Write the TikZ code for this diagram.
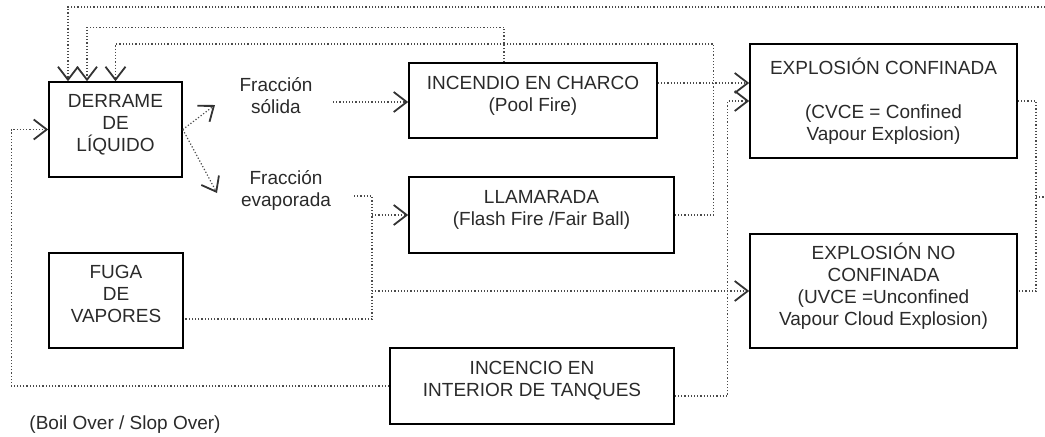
\documentclass[tikz,border=0pt]{standalone}
\usepackage{fontspec}
\setmainfont{Liberation Sans}
\usetikzlibrary{arrows.meta,calc}
\definecolor{linegray}{HTML}{4A4A4A}
\definecolor{textgray}{HTML}{2A2A2A}
\newcommand{\diagfont}{\fontsize{9.5pt}{11pt}\selectfont}
\tikzset{
    box/.style={draw, line width=0.8pt, align=center, font=\diagfont, text=textgray, inner sep=2pt, text depth=7pt},
    lbl/.style={align=center, font=\diagfont, text=textgray},
    flow/.style={densely dotted, line width=0.6pt, linegray},
    arr/.style={flow, -{Straight Barb[length=6.5pt,width=10pt,line width=0.9pt,color=black!80]}},
}
\begin{document}
\begin{tikzpicture}[x=0.5pt, y=-0.5pt]
    \useasboundingbox (0,0) rectangle (1045,436);

    % Sources
    \node[box, minimum width=66.5pt, minimum height=47.5pt] (derrame) at (115.5,129.5) {DERRAME\\DE\\LÍQUIDO};
    \node[box, minimum width=67pt, minimum height=47.5pt] (fugavap) at (116,300.5) {FUGA\\DE\\VAPORES};

    % Fractions
    \node[lbl] (solida) at (276,96) {Fracción\\sólida};
    \node[lbl] (evapor) at (286,190) {Fracción\\evaporada};

    % Fires
    \node[box, minimum width=124pt, minimum height=37.5pt] (charco) at (533,100.5) {INCENDIO EN CHARCO\\(Pool Fire)};
    \node[box, minimum width=132.5pt, minimum height=38pt] (llamarada) at (541.5,215) {LLAMARADA\\(Flash Fire /Fair Ball)};
    \node[box, minimum width=142pt, minimum height=38pt] (tanques) at (532,386) {INCENCIO EN\\INTERIOR DE TANQUES};
    \node[lbl] (boil) at (125,425) {(Boil Over / Slop Over)};

    % Explosions
    \node[box, text depth=, minimum width=133.5pt, minimum height=57pt] (explconf) at (883.5,101) {EXPLOSIÓN CONFINADA\\[11pt](CVCE = Confined\\Vapour Explosion)};
    \node[box, minimum width=133.5pt, minimum height=57pt] (explnoconf) at (883.5,291) {EXPLOSIÓN NO\\CONFINADA\\(UVCE =Unconfined\\Vapour Cloud Explosion)};

    % Bend points
    \coordinate (solidaTip) at (215,105);
    \coordinate (evapTip) at (217,193);
    \coordinate (solidaOut) at (333,102);
    \coordinate (evapOut) at (354,196);
    \coordinate (junc) at (372,196);
    \coordinate (fugaOut) at ([yshift=-9.25pt]fugavap.east);
    \coordinate (charcoOut) at ([yshift=8.75pt]charco.east);
    \coordinate (tanqOut) at ([yshift=-5pt]tanques.east);
    \coordinate (mergeR) at (1036,197);
    \coordinate (rightB) at (1045,197);
    \coordinate (topA) at (1045,7);

    % Spill splits
    \draw[arr] (derrame.east) -- (solidaTip);
    \draw[arr] (derrame.east) -- (evapTip);
    \draw[arr] (solidaOut) -- (solidaOut -| charco.west);

    % Vapour lines
    \draw[flow] (evapOut) -- (junc) |- (fugaOut);
    \draw[arr] (junc |- llamarada.west) -- (llamarada.west);
    \draw[arr] (junc |- explnoconf.west) -- (explnoconf.west);

    % To the confined explosion
    \draw[arr] (charcoOut) -- (charcoOut -| explconf.west);
    \draw[arr] (tanqOut) -- ++(53,0) |- (explconf.west);

    % Feedback to the spill
    \draw[arr] ([xshift=-14.5pt]charco.north) -- ++(0,-35) -| ([xshift=-14.25pt]derrame.north);
    \draw[arr] (llamarada.east) -- ++(39,0) -- ++(0,-171) -| (derrame.north);
    \draw[arr] (tanques.west) -- ++(-378,0) |- (derrame.west);
    \draw[arr] (topA) -| ([xshift=-23.75pt]derrame.north);

    % Explosions merge
    \draw[flow] (explconf.east) -| (mergeR) |- (explnoconf.east);
    \draw[flow] (mergeR) -- (rightB);
\end{tikzpicture}
\end{document}
